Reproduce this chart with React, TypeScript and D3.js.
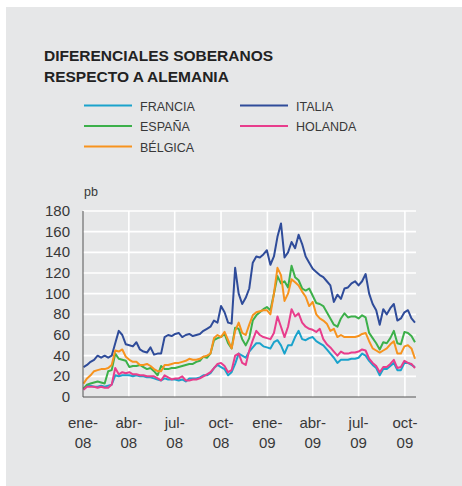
import React from "react";
import * as d3 from "d3";

const startDate = new Date(2008, 0, 2);
const weekCount = 95;
const dates = d3.range(weekCount).map((i) => d3.timeDay.offset(startDate, 7 * i));

const francia = [8, 11, 11, 10, 10, 11, 10, 11, 12, 21, 20, 21, 21, 21, 20, 21, 20, 20, 19, 19, 18, 17, 16, 18, 17, 17, 17, 16, 17, 15, 18, 18, 18, 19, 21, 21, 23, 28, 31, 29, 27, 21, 24, 32, 42, 40, 38, 44, 48, 52, 52, 49, 48, 47, 53, 55, 50, 42, 50, 50, 58, 64, 56, 55, 57, 58, 54, 52, 50, 46, 42, 38, 33, 36, 36, 36, 37, 37, 38, 42, 40, 35, 31, 28, 21, 27, 27, 30, 33, 26, 26, 33, 33, 31, 29];
const italia = [29, 31, 34, 36, 40, 38, 40, 38, 40, 52, 64, 60, 51, 50, 49, 53, 46, 44, 43, 48, 41, 42, 42, 58, 60, 59, 61, 62, 58, 60, 61, 59, 60, 61, 64, 66, 68, 74, 72, 88, 82, 72, 71, 125, 100, 90, 96, 105, 130, 136, 135, 138, 142, 128, 136, 155, 168, 135, 140, 150, 144, 157, 148, 136, 130, 124, 121, 118, 116, 112, 108, 92, 99, 95, 105, 106, 110, 112, 108, 112, 119, 100, 90, 84, 70, 85, 80, 86, 90, 74, 76, 82, 84, 76, 72];
const espana = [8, 12, 13, 14, 15, 14, 13, 25, 26, 42, 37, 36, 35, 29, 30, 30, 31, 29, 27, 28, 25, 21, 30, 27, 27, 28, 28, 29, 30, 31, 32, 32, 34, 35, 39, 38, 42, 55, 57, 58, 61, 52, 47, 67, 66, 56, 50, 57, 74, 79, 82, 85, 87, 84, 100, 117, 110, 112, 106, 127, 116, 113, 105, 103, 105, 98, 91, 90, 88, 82, 76, 70, 68, 76, 81, 77, 78, 78, 76, 79, 77, 62, 57, 52, 46, 53, 52, 57, 64, 52, 51, 63, 62, 59, 53];
const holanda = [7, 10, 10, 10, 9, 10, 9, 9, 12, 28, 22, 24, 23, 24, 22, 22, 21, 21, 20, 20, 20, 18, 16, 21, 19, 17, 18, 18, 20, 16, 16, 17, 17, 18, 20, 22, 24, 28, 32, 33, 30, 24, 26, 40, 42, 33, 31, 45, 55, 64, 60, 58, 57, 56, 62, 78, 68, 58, 68, 85, 78, 81, 72, 68, 66, 65, 63, 66, 56, 51, 48, 44, 40, 44, 42, 42, 43, 43, 44, 46, 45, 37, 33, 30, 24, 29, 29, 32, 36, 28, 29, 35, 33, 32, 28];
const belgica = [13, 18, 21, 25, 26, 27, 27, 28, 31, 45, 44, 46, 39, 36, 34, 34, 31, 31, 32, 30, 27, 25, 25, 31, 31, 32, 33, 33, 34, 35, 37, 36, 36, 37, 39, 40, 42, 57, 60, 58, 63, 55, 47, 64, 72, 62, 60, 70, 79, 82, 83, 84, 84, 80, 100, 125, 118, 93, 100, 114, 111, 108, 102, 97, 88, 92, 80, 76, 74, 71, 64, 66, 58, 60, 58, 58, 58, 58, 59, 61, 62, 54, 47, 45, 43, 45, 47, 51, 54, 42, 42, 49, 50, 47, 37];

const seriesNames = ["FRANCIA", "ITALIA", "ESPAÑA", "HOLANDA", "BÉLGICA"];
const seriesColors = ["#1aa3cc", "#2f4c9a", "#3cb04a", "#e83d8c", "#f7931e"];
const seriesValues = [francia, italia, espana, holanda, belgica];
const drawOrder = [0, 1, 2, 4, 3];

const yTicks = [0, 20, 40, 60, 80, 100, 120, 140, 160, 180];
const tickMonths = ["ene-", "abr-", "jul-", "oct-", "ene-", "abr-", "jul-", "oct-"];
const tickYears = ["08", "08", "08", "08", "09", "09", "09", "09"];

const titleLines = ["DIFERENCIALES SOBERANOS", "RESPECTO A ALEMANIA"];
const unitLabel = "pb";

const FONT = "'Liberation Sans', Arial, Helvetica, sans-serif";
const TEXT = "#383838";

export default function App() {
  const W = 462;
  const H = 486;
  const left = 83;
  const right = 416;
  const top = 211;
  const bottom = 397;

  const x = d3
    .scaleTime()
    .domain([new Date(2008, 0, 1), new Date(2009, 9, 23)])
    .range([left, right]);
  const y = d3.scaleLinear().domain([0, 180]).range([bottom, top]);

  const tickDates = d3.timeMonth.every(3)!.range(new Date(2008, 0, 1), new Date(2009, 9, 2));

  const line = d3
    .line<number>()
    .x((_, i) => x(dates[i]))
    .y((d) => y(d));

  const legendItems = [
    { idx: 0, col: 0, row: 0 },
    { idx: 1, col: 1, row: 0 },
    { idx: 2, col: 0, row: 1 },
    { idx: 3, col: 1, row: 1 },
    { idx: 4, col: 0, row: 2 },
  ];

  return (
    <svg
      width={W}
      height={H}
      style={{ position: "absolute", left: 0, top: 0, display: "block" }}
      fontFamily={FONT}
    >
      <rect x={0} y={0} width={W} height={H} fill="#ffffff" />
      <rect x={6} y={7} width={W - 6} height={H - 7} fill="#e6e7e8" />

      {titleLines.map((t, i) => (
        <text key={t} x={44} y={61 + i * 21} fontSize={15.5} fontWeight={700} fill="#222">
          {t}
        </text>
      ))}

      {legendItems.map((it) => {
        const lx = it.col === 0 ? 84 : 240;
        const ly = 105.5 + it.row * 20.5;
        return (
          <g key={it.idx}>
            <line x1={lx} x2={lx + 48} y1={ly} y2={ly} stroke={seriesColors[it.idx]} strokeWidth={2} />
            <text x={lx + 56} y={ly + 5} fontSize={12.5} fill={TEXT}>
              {seriesNames[it.idx]}
            </text>
          </g>
        );
      })}

      <text x={84} y={196} fontSize={12.5} fill={TEXT}>
        {unitLabel}
      </text>

      {yTicks.slice(1).map((v) => (
        <line key={v} x1={left} x2={right} y1={y(v)} y2={y(v)} stroke="#ffffff" strokeWidth={1.6} />
      ))}
      {tickDates.slice(1).map((d) => (
        <line key={+d} x1={x(d)} x2={x(d)} y1={top} y2={bottom} stroke="#ffffff" strokeWidth={1.6} />
      ))}

      {drawOrder.map((k) => (
        <path
          key={k}
          d={line(seriesValues[k]) || ""}
          fill="none"
          stroke={seriesColors[k]}
          strokeWidth={2}
          strokeLinejoin="round"
        />
      ))}

      <line x1={left} x2={left} y1={top} y2={bottom} stroke="#555" strokeWidth={1} />
      <line x1={left} x2={right} y1={bottom} y2={bottom} stroke="#555" strokeWidth={1} />

      {yTicks.map((v) => (
        <text key={v} x={70} y={y(v) + 5} fontSize={15} textAnchor="end" fill={TEXT}>
          {v}
        </text>
      ))}

      {tickDates.map((d, i) => (
        <g key={+d}>
          <text x={x(d)} y={428} fontSize={15} textAnchor="middle" fill={TEXT}>
            {tickMonths[i]}
          </text>
          <text x={x(d)} y={448} fontSize={15} textAnchor="middle" fill={TEXT}>
            {tickYears[i]}
          </text>
        </g>
      ))}
    </svg>
  );
}
